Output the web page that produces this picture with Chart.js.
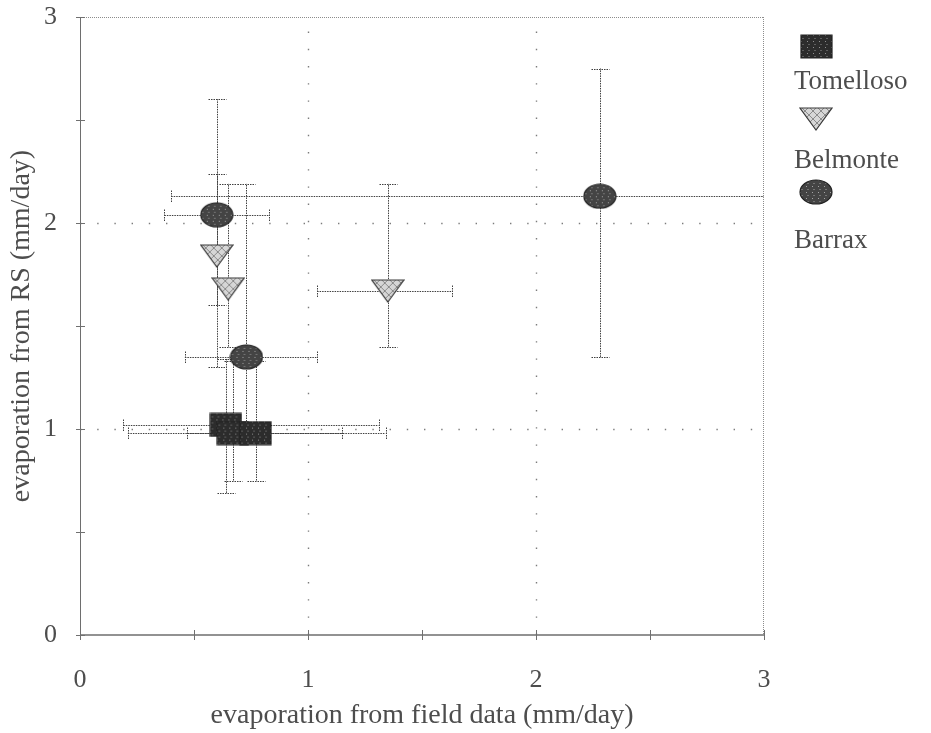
<!DOCTYPE html>
<html>
<head>
<meta charset="utf-8">
<script src="https://cdn.jsdelivr.net/npm/chart.js@4.4.1/dist/chart.umd.min.js"></script>
<style>
  html, body { margin: 0; padding: 0; background: #fff; }
  #wrap { position: relative; width: 931px; height: 733px; overflow: hidden; }
  #c { position: absolute; left: 0; top: 0; }
  .lg-text { position: absolute; left: 794px; font-family: "Liberation Serif", "Times New Roman", serif;
             font-size: 27px; line-height: 27px; color: #4d4d4d; white-space: nowrap; }
  .lg-mark { position: absolute; }
</style>
</head>
<body>
<div id="wrap">
  <canvas id="c" width="931" height="733"></canvas>
  <div id="legend"></div>
</div>
<script>
// ---- data (mm/day) ----
const xTitle = 'evaporation from field data (mm/day)';
const yTitle = 'evaporation from RS (mm/day)';
const siteNames = ['Tomelloso', 'Belmonte', 'Barrax'];

const tomellosoX     = [0.64, 0.67, 0.77];
const tomellosoY     = [1.02, 0.98, 0.98];
const tomellosoXLow  = [0.19, 0.21, 0.47];
const tomellosoXHigh = [1.31, 1.34, 1.15];
const tomellosoYLow  = [0.69, 0.75, 0.75];
const tomellosoYHigh = [1.34, 1.33, 1.33];

const belmonteX     = [0.60, 0.65, 1.35];
const belmonteY     = [1.84, 1.68, 1.67];
const belmonteXLow  = [null, null, 1.04];
const belmonteXHigh = [null, null, 1.63];
const belmonteYLow  = [1.30, 1.40, 1.40];
const belmonteYHigh = [2.24, 2.19, 2.19];

const barraxX     = [0.60, 0.73, 2.28];
const barraxY     = [2.04, 1.35, 2.13];
const barraxXLow  = [0.37, 0.46, 0.40];
const barraxXHigh = [0.83, 1.04, 4.16];
const barraxYLow  = [1.60, 1.00, 1.35];
const barraxYHigh = [2.60, 2.19, 2.75];

const axisMin = 0;
const axisMax = 3;
const tickStep = 0.5;

// ---- styling ----
const serif = '"Liberation Serif", "Times New Roman", serif';
const textColor = '#4d4d4d';

function points(xs, ys, xl, xh, yl, yh) {
  return xs.map((x, i) => ({ x, y: ys[i], xLow: xl[i], xHigh: xh[i], yLow: yl[i], yHigh: yh[i] }));
}

// halftone-style marker bitmaps
function markerCanvas(kind) {
  const dims = { square: [31, 23], triangle: [32, 22], ellipse: [32, 24] };
  const [w, h] = dims[kind];
  const c = document.createElement('canvas');
  c.width = w + 2; c.height = h + 2;
  const g = c.getContext('2d');
  g.translate(1, 1);
  const path = () => {
    g.beginPath();
    if (kind === 'square') g.rect(0, 0, w, h);
    else if (kind === 'ellipse') g.ellipse(w / 2, h / 2, w / 2, h / 2, 0, 0, Math.PI * 2);
    else { g.moveTo(0, 0); g.lineTo(w, 0); g.lineTo(w / 2, h); g.closePath(); }
  };
  const base = { square: '#2c2c2c', ellipse: '#444444', triangle: '#d6d6d6' }[kind];
  path();
  g.fillStyle = base;
  g.fill();
  g.save();
  path();
  g.clip();
  if (kind === 'triangle') {
    g.strokeStyle = '#8a8a8a';
    g.lineWidth = 1;
    for (let k = -h; k < w + h; k += 8) {
      g.beginPath(); g.moveTo(k, 0); g.lineTo(k + h, h); g.stroke();
      g.beginPath(); g.moveTo(k, h); g.lineTo(k + h, 0); g.stroke();
    }
  } else {
    g.fillStyle = kind === 'square' ? '#8f8f8f' : '#a5a5a5';
    for (let yy = 0; yy < h; yy += 3) {
      for (let xx = (yy / 3) % 2 ? 1.5 : 0; xx < w; xx += 3) {
        if (((xx + yy) | 0) % 2 === 0) g.fillRect(xx, yy, 1, 1);
      }
    }
  }
  g.restore();
  path();
  g.strokeStyle = kind === 'triangle' ? '#3a3a3a' : '#222';
  g.lineWidth = 1.2;
  g.stroke();
  return c;
}

// frame, dotted grid, axis ticks and error bars
const framePlugin = {
  id: 'frame',
  beforeDatasetsDraw(chart) {
    const { ctx, chartArea: a, scales: { x, y } } = chart;
    const line = (x1, y1, x2, y2) => { ctx.beginPath(); ctx.moveTo(x1, y1); ctx.lineTo(x2, y2); ctx.stroke(); };
    ctx.save();

    // dotted grid at whole values
    ctx.strokeStyle = '#7c7c7c';
    ctx.lineWidth = 1.4;
    ctx.setLineDash([1.4, 15.8]);
    x.ticks.forEach(t => {
      if (Number.isInteger(t.value) && t.value > axisMin && t.value < axisMax) {
        const px = Math.round(x.getPixelForValue(t.value)) + 0.5;
        line(px, a.bottom, px, a.top);
      }
    });
    y.ticks.forEach(t => {
      if (Number.isInteger(t.value) && t.value > axisMin && t.value < axisMax) {
        const py = Math.round(y.getPixelForValue(t.value)) + 0.5;
        line(a.left, py, a.right, py);
      }
    });

    // top and right border
    ctx.setLineDash([1, 1]);
    ctx.strokeStyle = '#8c8c8c';
    ctx.lineWidth = 1;
    line(a.left, a.top + 0.5, a.right, a.top + 0.5);
    line(a.right - 0.5, a.top, a.right - 0.5, a.bottom);

    // left and bottom axis lines
    ctx.setLineDash([]);
    ctx.strokeStyle = '#6e6e6e';
    line(a.left + 0.5, a.top, a.left + 0.5, a.bottom);
    ctx.lineWidth = 1.5;
    line(a.left, a.bottom, a.right, a.bottom);

    // tick marks crossing the axes
    ctx.lineWidth = 1;
    ctx.strokeStyle = '#707070';
    x.ticks.forEach(t => {
      const px = Math.round(x.getPixelForValue(t.value)) + 0.5;
      line(px, a.bottom - 5, px, a.bottom + 5);
    });
    y.ticks.forEach(t => {
      const py = Math.round(y.getPixelForValue(t.value)) + 0.5;
      line(a.left - 4, py, a.left + 5, py);
    });

    // error bars
    ctx.beginPath();
    ctx.rect(a.left, a.top, a.right - a.left, a.bottom - a.top);
    ctx.clip();
    ctx.strokeStyle = '#3f3f3f';
    ctx.lineWidth = 1;
    ctx.setLineDash([1.5, 1]);
    chart.data.datasets.forEach(ds => {
      ds.data.forEach(p => {
        const px = Math.round(x.getPixelForValue(p.x)) + 0.5;
        const py = Math.round(y.getPixelForValue(p.y)) + 0.5;
        if (p.yLow != null && p.yHigh != null) {
          const y1 = y.getPixelForValue(p.yLow), y2 = y.getPixelForValue(p.yHigh);
          line(px, y1, px, y2);
          line(px - 9, Math.round(y1) + 0.5, px + 9, Math.round(y1) + 0.5);
          line(px - 9, Math.round(y2) + 0.5, px + 9, Math.round(y2) + 0.5);
        }
        if (p.xLow != null && p.xHigh != null) {
          const x1 = x.getPixelForValue(p.xLow), x2 = x.getPixelForValue(p.xHigh);
          line(x1, py, x2, py);
          line(Math.round(x1) + 0.5, py - 6, Math.round(x1) + 0.5, py + 6);
          line(Math.round(x2) + 0.5, py - 6, Math.round(x2) + 0.5, py + 6);
        }
      });
    });
    ctx.restore();
  }
};

const markers = {
  Tomelloso: markerCanvas('square'),
  Belmonte: markerCanvas('triangle'),
  Barrax: markerCanvas('ellipse')
};

const datasets = [
  { label: siteNames[0], data: points(tomellosoX, tomellosoY, tomellosoXLow, tomellosoXHigh, tomellosoYLow, tomellosoYHigh) },
  { label: siteNames[1], data: points(belmonteX, belmonteY, belmonteXLow, belmonteXHigh, belmonteYLow, belmonteYHigh) },
  { label: siteNames[2], data: points(barraxX, barraxY, barraxXLow, barraxXHigh, barraxYLow, barraxYHigh) }
].map(d => Object.assign(d, { pointStyle: markers[d.label], pointRadius: 12, showLine: false }));

const tickFont = { family: serif, size: 26 };
const titleFont = { family: serif, size: 28 };
const intLabel = v => (Number.isInteger(v) ? String(v) : '');

new Chart(document.getElementById('c'), {
  type: 'scatter',
  data: { datasets },
  options: {
    responsive: false,
    animation: false,
    devicePixelRatio: 1,
    layout: { padding: { top: 17, right: 167, left: 0, bottom: 0 } },
    plugins: { legend: { display: false }, tooltip: { enabled: false } },
    scales: {
      x: {
        type: 'linear', min: axisMin, max: axisMax,
        afterFit(s) { s.height = 98; s.paddingLeft = 0; s.paddingRight = 0; },
        grid: { display: false, drawTicks: false },
        border: { display: false },
        ticks: { stepSize: tickStep, callback: intLabel, font: tickFont, color: textColor,
                 padding: 30, maxRotation: 0, autoSkip: false },
        title: { display: true, text: xTitle, font: titleFont, color: textColor, padding: { top: 0, bottom: 1 } }
      },
      y: {
        type: 'linear', min: axisMin, max: axisMax,
        afterFit(s) { s.width = 80; s.paddingTop = 0; s.paddingBottom = 0; },
        grid: { display: false, drawTicks: false },
        border: { display: false },
        ticks: { stepSize: tickStep, callback: intLabel, font: tickFont, color: textColor,
                 padding: 23, autoSkip: false },
        title: { display: true, text: yTitle, font: titleFont, color: textColor, padding: { top: 5, bottom: 0 } }
      }
    }
  },
  plugins: [framePlugin]
});

// legend: marker above each site name
const legend = document.getElementById('legend');
const legendRows = [
  { name: siteNames[0], markTop: 46, textTop: 67 },
  { name: siteNames[1], markTop: 119, textTop: 146 },
  { name: siteNames[2], markTop: 192, textTop: 226 }
];
legendRows.forEach(r => {
  const src = markers[r.name];
  const m = document.createElement('canvas');
  m.width = src.width; m.height = src.height;
  m.getContext('2d').drawImage(src, 0, 0);
  m.className = 'lg-mark';
  m.style.left = (816 - src.width / 2) + 'px';
  m.style.top = (r.markTop - src.height / 2) + 'px';
  legend.appendChild(m);
  const t = document.createElement('div');
  t.className = 'lg-text';
  t.style.top = r.textTop + 'px';
  t.textContent = r.name;
  legend.appendChild(t);
});
</script>
</body>
</html>
